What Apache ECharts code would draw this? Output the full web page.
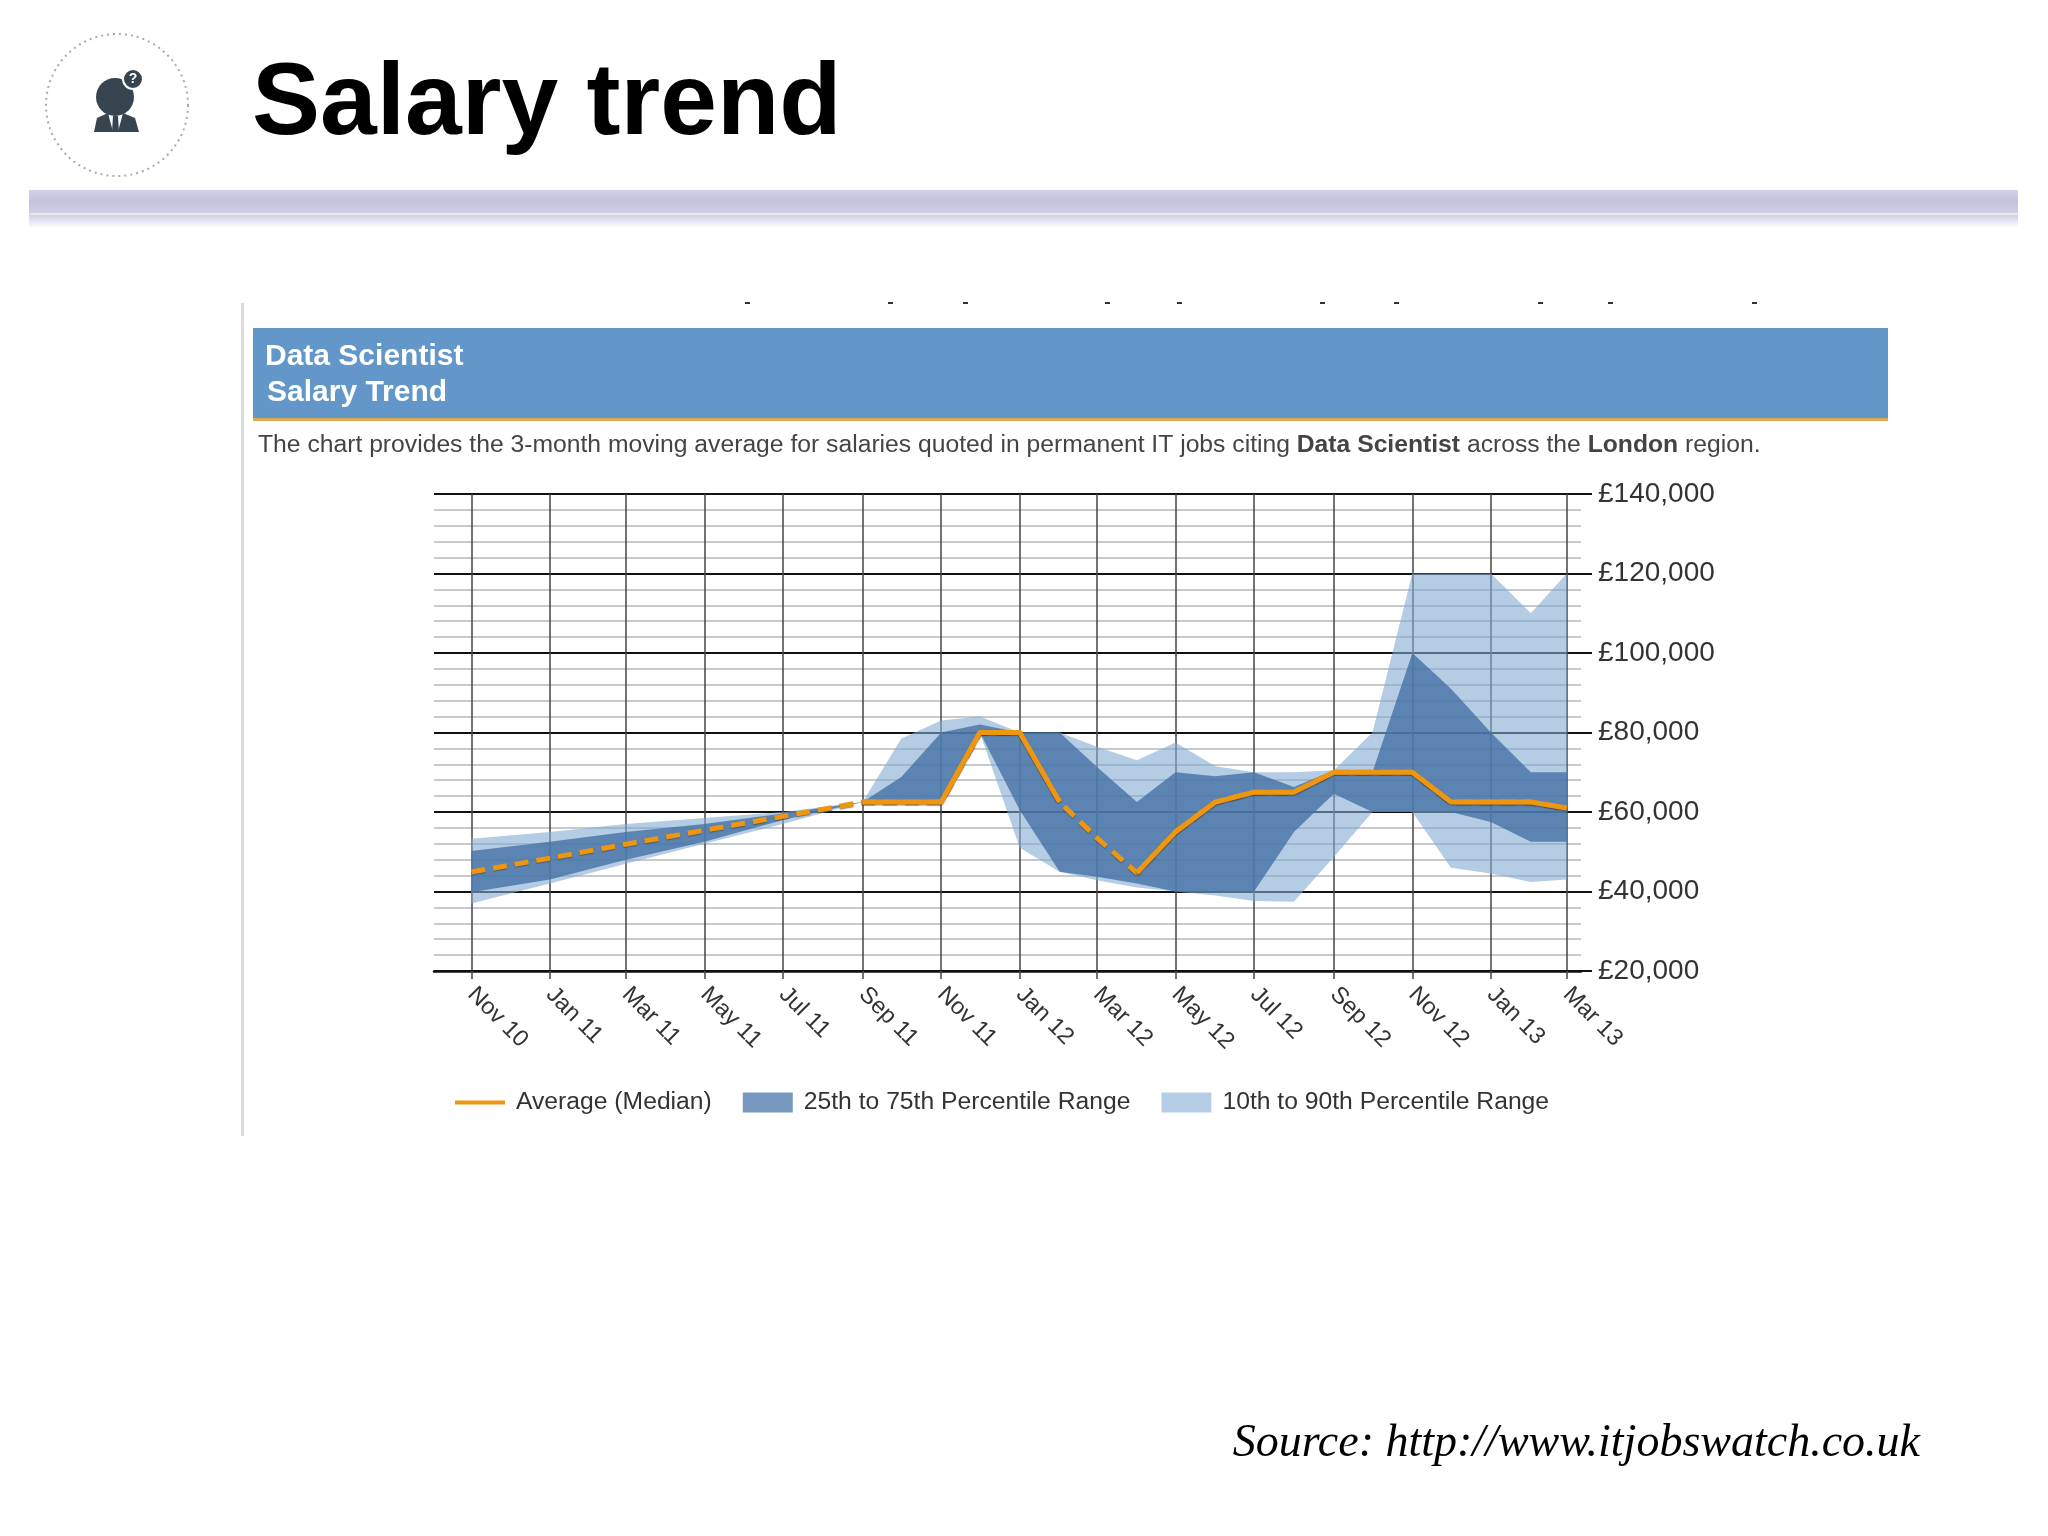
<!DOCTYPE html>
<html>
<head>
<meta charset="utf-8">
<title>Salary trend</title>
<script src="https://cdn.jsdelivr.net/npm/echarts@6/dist/echarts.min.js"></script>
<style>
    html, body { margin: 0; padding: 0; background: #fff; }
    #main { width: 2048px; height: 1536px; }
</style>
</head>
<body>
<div id="main"></div>
<script>
// months that carry a reading (the straight stretch at the start is only read every 2 months)
var months = ['2010-11-01', '2011-01-01', '2011-03-01', '2011-05-01', '2011-07-01', '2011-09-01', '2011-10-01',
    '2011-11-01', '2011-12-01', '2012-01-01', '2012-02-01', '2012-03-01', '2012-04-01', '2012-05-01', '2012-06-01',
    '2012-07-01', '2012-08-01', '2012-09-01', '2012-10-01', '2012-11-01', '2012-12-01', '2013-01-01', '2013-02-01', '2013-03-01'];

var median = [44900, 48400, 51900, 55400, 58900, 62500, 62500,
    62500, 80000, 80000, 62500, 53500, 44700, 55000, 62500,
    65000, 65000, 70000, 70000, 70000, 62500, 62500, 62500, 61000];
// same readings, empty where the source draws the line dashed
var medianSolid = [null, null, null, null, null, 62500, 62500,
    62500, 80000, 80000, 62500, null, 44700, 55000, 62500,
    65000, 65000, 70000, 70000, 70000, 62500, 62500, 62500, 61000];

var p10 = [37000, 42000, 47000, 52000, 57000, 62500, 62500,
    62500, 80000, 51000, 45000, 42800, 41000, 40000, 39000,
    37600, 37400, 48700, 60000, 60000, 46000, 44500, 42400, 43000];
var p25 = [39800, 43000, 48000, 52500, 58000, 62500, 62500,
    62500, 80000, 60500, 45000, 43700, 42000, 40000, 40000,
    40000, 55000, 64600, 60000, 60000, 60000, 57500, 52500, 52500];
var p75 = [50200, 52500, 55000, 57000, 59600, 62500, 68800,
    80000, 82000, 80000, 80000, 71300, 62500, 70000, 69000,
    70000, 66300, 70500, 70000, 100000, 91000, 80000, 70000, 70000];
var p90 = [53300, 55000, 57000, 58500, 60000, 62500, 78500,
    83000, 84000, 80000, 80000, 76400, 73000, 77500, 71500,
    70000, 70000, 70500, 80000, 120000, 120000, 120000, 110000, 120000];

var tickMonths = ['2010-11-01', '2011-01-01', '2011-03-01', '2011-05-01', '2011-07-01', '2011-09-01', '2011-11-01', '2012-01-01',
    '2012-03-01', '2012-05-01', '2012-07-01', '2012-09-01', '2012-11-01', '2013-01-01', '2013-03-01'];
var tickLabels = ['Nov 10', 'Jan 11', 'Mar 11', 'May 11', 'Jul 11', 'Sep 11', 'Nov 11', 'Jan 12',
    'Mar 12', 'May 12', 'Jul 12', 'Sep 12', 'Nov 12', 'Jan 13', 'Mar 13'];

var seriesNames = ['Average (Median)', '25th to 75th Percentile Range', '10th to 90th Percentile Range'];

// the source spaces months by their real length, so x is a day number
function toDay(s) {
    return Math.round(Date.parse(s + 'T00:00:00Z') / 86400000);
}
var tickDays = tickMonths.map(toDay);

function pairs(values) {
    return months.map(function (m, i) { return [toDay(m), values[i]]; });
}

// one polygon between two value lists, drawn once from the first item
function bandSeries(name, low, high, color, z) {
    return {
        name: name, type: 'custom', silent: true, z: z, clip: true,
        itemStyle: {color: color},
        data: months.map(function (m, i) { return [toDay(m), low[i], high[i]]; }),
        encode: {x: 0, y: [1, 2]},
        renderItem: function (params, api) {
            if (params.dataIndex !== 0) {
                return;
            }
            var top = months.map(function (m, i) { return api.coord([toDay(m), high[i]]); });
            var bottom = months.map(function (m, i) { return api.coord([toDay(m), low[i]]); }).reverse();
            return {type: 'polygon', shape: {points: top.concat(bottom)}, style: {fill: color}};
        }
    };
}

var orange = '#ee960f';
var lineShadow = 'rgba(60,60,60,0.55)';

var myChart = echarts.init(document.getElementById('main'));

var font = '"Liberation Sans", Arial, sans-serif';

// top-of-page clipped text fragments above the blue header
var clipped = [745, 888, 963, 1105, 1177, 1320, 1394, 1538, 1608, 1752].map(function (x) {
    return {type: 'rect', shape: {x: x, y: 302, width: 5, height: 2}, style: {fill: '#333'}};
});

var slideGraphics = [
    // icon
    {type: 'circle', shape: {cx: 117, cy: 105, r: 71}, style: {fill: '#fff', stroke: '#aaa', lineWidth: 2, lineDash: [2, 4]}},
    {type: 'circle', shape: {cx: 115, cy: 97, r: 19}, style: {fill: '#36454f'}},
    {type: 'circle', shape: {cx: 133, cy: 79, r: 10}, style: {fill: '#36454f', stroke: '#fff', lineWidth: 2}},
    {type: 'text', x: 133, y: 79, style: {text: '?', fill: '#fff', font: 'bold 14px ' + font, align: 'center', verticalAlign: 'middle'}},
    {type: 'polygon', shape: {points: [[94, 132], [97, 118], [108, 113], [113, 132]]}, style: {fill: '#36454f'}},
    {type: 'polygon', shape: {points: [[118, 132], [123, 113], [135, 118], [139, 132]]}, style: {fill: '#36454f'}},
    {type: 'polygon', shape: {points: [[113, 116], [118, 116], [119, 132], [112, 132]]}, style: {fill: '#36454f'}},
    // divider
    {type: 'rect', shape: {x: 29, y: 190, width: 1989, height: 23}, style: {fill: new echarts.graphic.LinearGradient(0, 0, 0, 1, [
        {offset: 0, color: '#d2d2ea'}, {offset: 0.5, color: '#c2c2de'}, {offset: 1, color: '#cfcfe6'}])}},
    {type: 'rect', shape: {x: 29, y: 213, width: 1989, height: 2}, style: {fill: '#e8e8e8'}},
    {type: 'rect', shape: {x: 29, y: 215, width: 1989, height: 13}, style: {fill: new echarts.graphic.LinearGradient(0, 0, 0, 1, [
        {offset: 0, color: '#cfcfe6'}, {offset: 1, color: '#ffffff'}])}},
    // title
    {type: 'text', x: 252, y: 106, style: {text: 'Salary trend', fill: '#000', font: 'bold 102px ' + font, align: 'left', verticalAlign: 'middle'}},
    // screenshot frame and header
    {type: 'rect', shape: {x: 241, y: 303, width: 3, height: 833}, style: {fill: '#dcdcdc'}},
    {type: 'rect', shape: {x: 253, y: 328, width: 1635, height: 90}, style: {fill: '#6497c9'}},
    {type: 'rect', shape: {x: 253, y: 418, width: 1635, height: 3}, style: {fill: '#e0aa50'}},
    {type: 'text', x: 265, y: 357, style: {text: 'Data Scientist', fill: '#fff', font: 'bold 30px ' + font, align: 'left', verticalAlign: 'middle'}},
    {type: 'text', x: 267, y: 393, style: {text: 'Salary Trend', fill: '#fff', font: 'bold 30px ' + font, align: 'left', verticalAlign: 'middle'}},
    {type: 'text', x: 258, y: 445, style: {
        text: 'The chart provides the 3-month moving average for salaries quoted in permanent IT jobs citing {b|Data Scientist} across the {b|London} region.',
        fill: '#444', font: '24.7px ' + font, align: 'left', verticalAlign: 'middle',
        rich: {b: {font: 'bold 24.7px ' + font, fill: '#444'}}
    }},
    // source
    {type: 'text', x: 1920, y: 1444, style: {text: 'Source: http://www.itjobswatch.co.uk', fill: '#000', font: 'italic 46px "Liberation Serif", "Times New Roman", serif', align: 'right', verticalAlign: 'middle'}}
].concat(clipped);

var option = {
    animation: false,
    backgroundColor: '#fff',
    textStyle: {fontFamily: font},
    graphic: {elements: slideGraphics},
    grid: {left: 434, right: 467, top: 494, bottom: 565},
    legend: {
        left: 455, top: 1090, padding: 0, itemWidth: 50, itemHeight: 20, itemGap: 31,
        textStyle: {fontSize: 24.7, color: '#333', padding: [0, 0, 0, 6]},
        data: [
            {
                name: seriesNames[0],
                icon: 'path://M0,0 L50,0 L50,0 Z M0,8 L50,8 L50,12 L0,12 Z M0,20 L50,20 L50,20 Z',
                itemStyle: {color: orange, borderWidth: 0}
            },
            {name: seriesNames[1], icon: 'rect', itemStyle: {color: '#7799c0', opacity: 1}},
            {name: seriesNames[2], icon: 'rect', itemStyle: {color: '#b5cde6', opacity: 1}}
        ]
    },
    xAxis: {
        type: 'value',
        min: toDay('2010-10-03'),
        max: toDay('2013-03-12'),
        axisLine: {lineStyle: {color: '#111', width: 2.5}},
        axisTick: {show: true, length: 8, customValues: tickDays, lineStyle: {color: '#444', width: 1.5}},
        splitLine: {show: true, lineStyle: {color: '#444', width: 1.5}},
        axisLabel: {
            customValues: tickDays, rotate: -45, margin: 20, fontSize: 23.5, color: '#333', hideOverlap: false,
            formatter: function (value) { return tickLabels[tickDays.indexOf(value)]; }
        }
    },
    yAxis: {
        type: 'value',
        position: 'right',
        min: 20000,
        max: 140000,
        interval: 20000,
        axisLine: {show: false},
        axisTick: {show: true, length: 11, lineStyle: {color: '#111', width: 2}},
        minorTick: {show: false, splitNumber: 5},
        minorSplitLine: {show: true, lineStyle: {color: '#c9c9cd', width: 2}},
        splitLine: {show: true, lineStyle: {color: '#111', width: 2}},
        axisLabel: {
            margin: 17, fontSize: 28, color: '#333', padding: [2, 0, 0, 0],
            formatter: function (value) { return '£' + value.toLocaleString('en-GB'); }
        }
    },
    series: [
        bandSeries(seriesNames[2], p10, p90, 'rgba(130,170,210,0.6)', 3),
        bandSeries(seriesNames[1], p25, p75, 'rgba(69,114,165,0.8)', 4),
        {
            name: 'Average (Median) estimated', type: 'line', data: pairs(median), symbol: 'none', silent: true, z: 5,
            lineStyle: {color: orange, width: 5, type: [14, 8], shadowColor: lineShadow, shadowBlur: 1, shadowOffsetY: 1}
        },
        {
            name: seriesNames[0], type: 'line', data: pairs(medianSolid), symbol: 'none', silent: true, z: 6, connectNulls: false,
            itemStyle: {color: orange},
            lineStyle: {color: orange, width: 5, shadowColor: lineShadow, shadowBlur: 1, shadowOffsetY: 1}
        }
    ]
};

myChart.setOption(option);
</script>
</body>
</html>
